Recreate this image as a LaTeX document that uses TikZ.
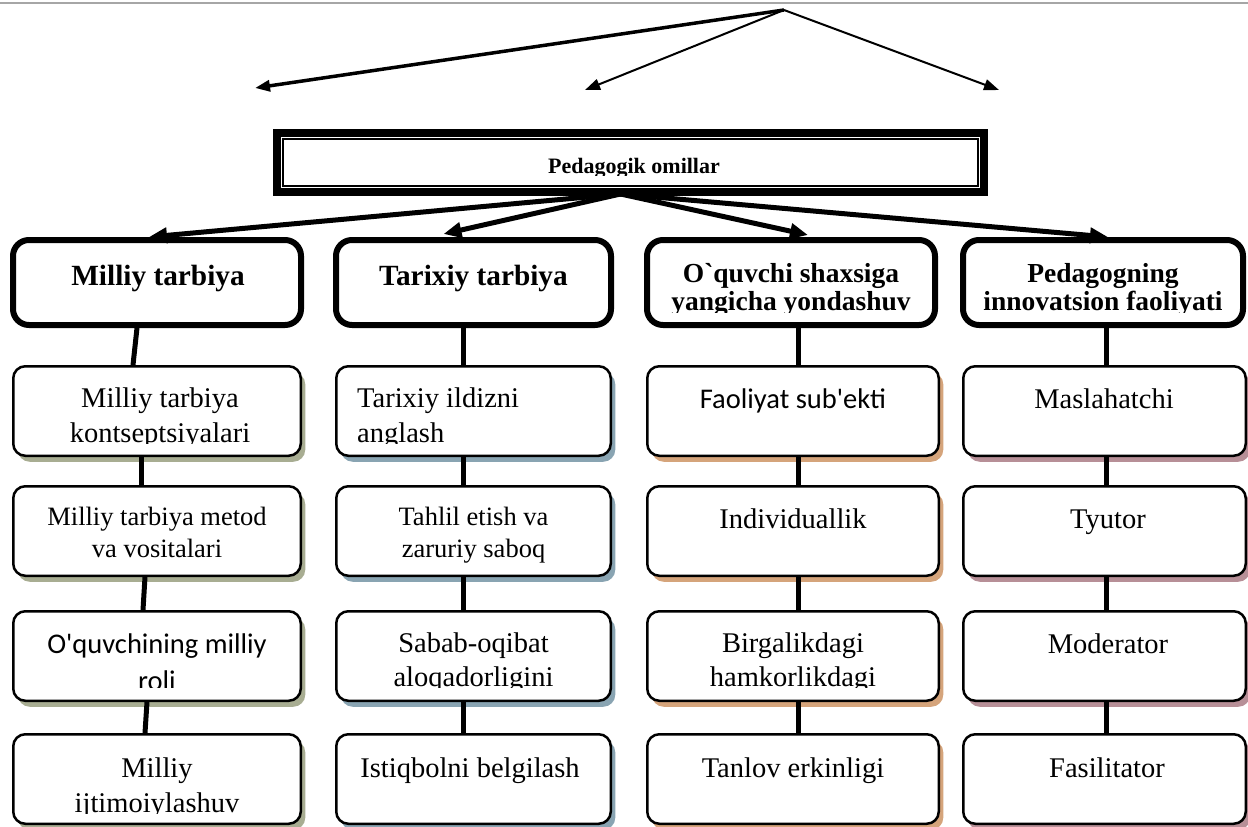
\documentclass[tikz,border=0pt]{standalone}
\usepackage{fontspec}
\setmainfont{Liberation Serif}
\newfontfamily\calfont{Carlito}
\usetikzlibrary{arrows.meta,calc,shadows}
\definecolor{shA}{HTML}{A8AD92}
\definecolor{shB}{HTML}{89A4B2}
\definecolor{shC}{HTML}{D5A47B}
\definecolor{shD}{HTML}{B78F97}
\definecolor{hdrgray}{HTML}{A6A6A6}
\newcommand\sq{\XeTeXglyph\XeTeXcharglyph"0027\relax}
\newcommand\bq{\XeTeXglyph\XeTeXcharglyph"0060\relax}
\begin{document}
\begin{tikzpicture}[x=1pt,y=-1pt,
  bigbox/.style={draw, line width=6pt, rounded corners=16pt, minimum height=85pt, inner sep=0pt, fill=white},
  smallbox/.style={draw, line width=2.5pt, rounded corners=12pt, minimum height=89.5pt, inner sep=0pt, fill=white},
  shadowA/.style={general shadow={fill=shA, shadow xshift=4.5pt, shadow yshift=-6pt}},
  shadowB/.style={general shadow={fill=shB, shadow xshift=4.5pt, shadow yshift=-6pt}},
  shadowC/.style={general shadow={fill=shC, shadow xshift=4.5pt, shadow yshift=-6pt}},
  shadowD/.style={general shadow={fill=shD, shadow xshift=4.5pt, shadow yshift=-6pt}},
  colA/.style={minimum width=287.5pt},
  colB/.style={minimum width=274.5pt},
  colC/.style={minimum width=291.5pt},
  colD/.style={minimum width=282.5pt},
  txt/.style={anchor=base, inner sep=0pt, font=\fontsize{28.5pt}{34pt}\selectfont},
  btxt/.style={anchor=base, inner sep=0pt, font=\bfseries\fontsize{27.5pt}{33pt}\selectfont},
  bbtxt/.style={anchor=base, inner sep=0pt, font=\bfseries\fontsize{29.3pt}{35pt}\selectfont},
  stxt/.style={anchor=base, inner sep=0pt, font=\fontsize{26.5pt}{32pt}\selectfont},
  ctxt/.style={anchor=base, inner sep=0pt, font=\calfont\fontsize{28.5pt}{34pt}\selectfont},
  conn/.style={line width=5pt},
  bigarrow/.style={line width=5pt, -{Triangle[length=18pt,width=15pt]}},
  toparrow/.style={line width=2pt, -{Triangle[length=15pt,width=11pt]}}
]
\useasboundingbox (0,0) rectangle (1248,827);

% page header rule
\draw[hdrgray, line width=2pt] (0,3) -- (1248,3);

% top arrows
\coordinate (apex) at (784,10);
\coordinate (ta) at (255,88);
\coordinate (tb) at (585,90);
\coordinate (tc) at (999,90);
\draw[toparrow, line width=3.5pt] (apex) -- (ta);
\draw[toparrow] (apex) -- (tb);
\draw[toparrow] (apex) -- (tc);

% header box
\node[draw, line width=8pt, minimum width=707pt, minimum height=59pt, inner sep=0pt] (hdr) at (630.5,162.5) {};
\draw[line width=1.5pt] ($(hdr.north west)+(6,6)$) rectangle ($(hdr.south east)+(-6,-6)$);
\draw[line width=2.5pt] ($(hdr.north west)+(10,10)$) rectangle ($(hdr.south east)+(-10,-10)$);
\begin{scope}
  \clip (0,0) rectangle (1248,175);
  \node[anchor=base, inner sep=0pt, font=\bfseries\fontsize{22pt}{26pt}\selectfont] (htxt) at (634,173) {Pedagogik omillar};
\end{scope}

% second row (thick boxes)
\node[bigbox, minimum width=288pt] (b21) at (157,282.5) {};
\node[bigbox, minimum width=275pt] (b22) at (473.5,282.5) {};
\node[bigbox, minimum width=288pt] (b23) at (791,282.5) {};
\node[bigbox, minimum width=280pt] (b24) at (1103,282.5) {};

% arrows from header
\coordinate (hs) at ($(hdr.south)+(-10,-2)$);
\draw[bigarrow] (hs) -- ($(b21.north)+(-8,0)$);
\draw[bigarrow] (hs) -- ($(b22.north)+(-30,-3)$);
\draw[bigarrow] (hs) -- ($(b23.north)+(17,-2)$);
\draw[bigarrow] (hs) -- ($(b24.north)+(5,0)$);

% column boxes
\foreach \r/\y in {3/411,4/531,5/656,6/779}{
  \node[smallbox, colA, shadowA] (b\r1) at (157,\y) {};
  \node[smallbox, colB, shadowB] (b\r2) at (473.5,\y) {};
  \node[smallbox, colC, shadowC] (b\r3) at (793,\y) {};
  \node[smallbox, colD, shadowD] (b\r4) at (1104.5,\y) {};
}

% connectors
\draw[conn] ($(b21.south)+(-20,0)$) -- ($(b31.north)+(-24,0)$);
\draw[conn] ($(b31.south)+(-16,0)$) -- ($(b41.north)+(-16,0)$);
\draw[conn] ($(b41.south)+(-12,0)$) -- ($(b51.north)+(-14,0)$);
\draw[conn] ($(b51.south)+(-10,0)$) -- ($(b61.north)+(-12,0)$);

\draw[conn] ($(b22.south)+(-10,0)$) -- ($(b32.north)+(-10,0)$);
\draw[conn] ($(b32.south)+(-10,0)$) -- ($(b42.north)+(-10,0)$);
\draw[conn] ($(b42.south)+(-10,0)$) -- ($(b52.north)+(-10,0)$);
\draw[conn] ($(b52.south)+(-10,0)$) -- ($(b62.north)+(-10,0)$);

\draw[conn] ($(b23.south)+(7,0)$) -- ($(b33.north)+(5,0)$);
\draw[conn] ($(b33.south)+(5,0)$) -- ($(b43.north)+(5,0)$);
\draw[conn] ($(b43.south)+(5,0)$) -- ($(b53.north)+(5,0)$);
\draw[conn] ($(b53.south)+(5,0)$) -- ($(b63.north)+(5,0)$);

\draw[conn] ($(b24.south)+(3,0)$) -- ($(b34.north)+(1.5,0)$);
\draw[conn] ($(b34.south)+(1.5,0)$) -- ($(b44.north)+(1.5,0)$);
\draw[conn] ($(b44.south)+(1.5,0)$) -- ($(b54.north)+(1.5,0)$);
\draw[conn] ($(b54.south)+(1.5,0)$) -- ($(b64.north)+(1.5,0)$);

% texts row 2
\node[bbtxt] (t21) at (158,285) {Milliy tarbiya};
\node[bbtxt] (t22) at (473.5,285) {Tarixiy tarbiya};
\node[btxt] (t23a) at (791,282) {O\bq quvchi shaxsiga};
\node[btxt] (t24a) at (1103,282) {Pedagogning};
\begin{scope}
  \clip (0,0) rectangle (1248,312.5);
  \node[btxt] (t23b) at (791,310) {yangicha yondashuv};
  \node[btxt] (t24b) at (1103,310.5) {innovatsion faoliyati};
\end{scope}

% texts row 3
\node[txt] (t31a) at (160,407) {Milliy tarbiya};
\node[txt, anchor=base west] (t32a) at (357,407) {Tarixiy ildizni};
\begin{scope}
  \clip (0,0) rectangle (1248,443);
  \node[txt] (t31b) at (160,442) {kontseptsiyalari};
  \node[txt, anchor=base west] (t32b) at (357,442) {anglash};
\end{scope}
\node[ctxt] (t33) at (793,408) {Faoliyat sub\sq ekti};
\node[txt] (t34) at (1104,408) {Maslahatchi};

% texts row 4
\node[stxt] (t41a) at (157,525) {Milliy tarbiya metod};
\node[stxt] (t41b) at (157,557) {va vositalari};
\node[stxt] (t42a) at (473.5,525) {Tahlil etish va};
\node[stxt] (t42b) at (473.5,557) {zaruriy saboq};
\node[txt] (t43) at (793,528) {Individuallik};
\node[txt] (t44) at (1108,528) {Tyutor};

% texts row 5
\node[ctxt] (t51a) at (157,653) {O\sq quvchining milliy};
\node[txt] (t52a) at (473.5,652) {Sabab-oqibat};
\node[txt] (t53a) at (793,652) {Birgalikdagi};
\node[txt] (t54) at (1108,653) {Moderator};
\begin{scope}
  \clip (0,0) rectangle (1248,687);
  \node[ctxt] (t51b) at (157,690) {roli};
  \node[txt] (t52b) at (473.5,686.5) {aloqadorligini};
  \node[txt] (t53b) at (793,686.5) {hamkorlikdagi};
\end{scope}

% texts row 6
\node[txt] (t61a) at (157,777) {Milliy};
\begin{scope}
  \clip (0,0) rectangle (1248,813);
  \node[txt] (t61b) at (157,812) {ijtimoiylashuv};
\end{scope}
\node[txt] (t62) at (470,777) {Istiqbolni belgilash};
\node[txt] (t63) at (793,777) {Tanlov erkinligi};
\node[txt] (t64) at (1107,777) {Fasilitator};
\end{tikzpicture}
\end{document}
